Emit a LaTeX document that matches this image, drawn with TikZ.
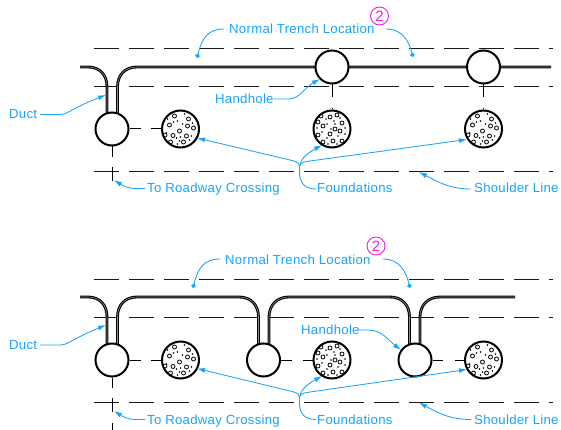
\documentclass[tikz,border=0pt]{standalone}
\usepackage{fontspec}
\setmainfont{Liberation Sans}
\usetikzlibrary{arrows.meta}
\definecolor{lead}{HTML}{18A4FA}
\definecolor{mag}{HTML}{F01CE6}
\tikzset{
 x=1pt,y=-1pt,
 road/.style={line width=1pt,dash pattern=on 24.5pt off 10.5pt,black!90},
 duct/.style={draw=black,line width=1.1pt,double=black!45,double distance=0.6pt,line cap=butt},
 hole/.style={circle,draw=black,line width=2pt,fill=white,minimum size=33pt,inner sep=0pt},
 found/.style={circle,draw=black,line width=2pt,fill=white,minimum size=37pt,inner sep=0pt},
 stub/.style={line width=1pt,black},
 lab/.style={text=lead,font=\fontsize{13.2}{15}\selectfont\addfontfeatures{LetterSpace=2},inner sep=0pt,anchor=base west},
 lead/.style={draw=lead,line width=0.85pt},
 arr/.style={lead,-{Latex[length=8pt,width=5pt]}},
 dotend/.style={lead,-{Circle[length=4.5pt,width=4.5pt]}},
 note/.style={circle,draw=mag,line width=0.9pt,inner sep=0pt,minimum size=18pt,text=mag,font=\fontsize{15}{16}\selectfont},
 pics/stones/.style={code={
  \foreach \a/\b in {-6/-13,8/-10,-11/-4,7/-3,13/-1,-1/2,6/7,-7.5/6.5,-10/13,3/13,-15.5/6}
   {\draw[line width=0.8pt] (\a,\b) circle[radius=2pt];}
  \foreach \a/\b in {4/-15,-3/-8,-7/-7,2/-5,12/-6,-14/4,0/8,-4/9,9/11,-3/15,-1/12,11/7,-13/-10}
   {\fill (\a,\b) circle[radius=0.95pt];}
 }},
 pics/stonesb/.style={code={
  \foreach \a/\b in {-11/-13,-2/-12,5/-14,-14/-7,-9/-3,10/-6,8/2,-2/5,-14/6,-9/13,1/12,10/12,3/0}
   {\draw[line width=0.8pt] (\a,\b) circle[radius=2pt];}
  \foreach \a/\b in {-6/-10,2/-8,8/-11,-5/-5,3/-5,13/-1,-1/0,-10/3,6/7,13/5,-5/9,-4/15,5/15,-15/-1}
   {\fill (\a,\b) circle[radius=0.95pt];}
 }}
}
\begin{document}
\begin{tikzpicture}
\useasboundingbox (0,0) rectangle (561,430);
% road lines
\coordinate (a1) at (94,49); \coordinate (a2) at (553,49);
\coordinate (b1) at (94,87); \coordinate (b2) at (553,87);
\coordinate (c1) at (94,172); \coordinate (c2) at (553,172);
\coordinate (d1) at (94,279); \coordinate (d2) at (553,279);
\coordinate (e1) at (94,317.5); \coordinate (e2) at (553,317.5);
\coordinate (f1) at (94,402.5); \coordinate (f2) at (553,402.5);
\draw[road] (a1)--(a2); \draw[road] (b1)--(b2); \draw[road] (c1)--(c2);
\draw[road] (d1)--(d2); \draw[road] (e1)--(e2); \draw[road] (f1)--(f2);
% top ducts
\draw[duct] (80,67) -- (88,67) .. controls (100,67) and (107,75) .. (107,87) -- (107,114);
\draw[duct] (117.5,114) -- (117.5,87) .. controls (117.5,75) and (125,67) .. (137,67) -- (551,67);
% bottom ducts
\draw[duct] (80,297) -- (88,297) .. controls (100,297) and (107,305) .. (107,317) -- (107,345);
\draw[duct] (117.5,345) -- (117.5,317) .. controls (117.5,305) and (125,297) .. (137,297) -- (239,297) .. controls (251,297) and (258.5,305) .. (258.5,317) -- (258.5,345);
\draw[duct] (269,345) -- (269,317) .. controls (269,305) and (277,297) .. (289,297) -- (390,297) .. controls (402,297) and (409.5,305) .. (409.5,317) -- (409.5,345);
\draw[duct] (420,345) -- (420,317) .. controls (420,305) and (428,297) .. (440,297) -- (515,297);
% handholes
\node[hole] (h1) at (112,129) {};
\node[hole] (h2) at (332,67) {};
\node[hole] (h3) at (483.5,67) {};
\node[hole] (h4) at (112,360) {};
\node[hole] (h5) at (263.5,360) {};
\node[hole] (h6) at (415,360) {};
% foundations
\node[found] (f1n) at (180.5,129) {};
\node[found] (f2n) at (332,129) {};
\node[found] (f3n) at (483.5,129) {};
\node[found] (f4n) at (180.5,360) {};
\node[found] (f5n) at (332,360) {};
\node[found] (f6n) at (483.5,360) {};
\pic at (f1n) {stones};
\pic at (f2n) {stonesb};
\pic at (f3n) {stones};
\pic at (f4n) {stones};
\pic at (f5n) {stonesb};
\pic at (f6n) {stones};
% stubs
\coordinate (s1) at (141,129); \coordinate (s2) at (151,129);
\draw[stub] (h1.east)--(s1); \draw[stub] (s2)--(f1n.west);
\coordinate (s3) at (112,157); \coordinate (s4) at (112,167); \coordinate (s5) at (112,181);
\draw[stub] (h1.south)--(s3); \draw[stub] (s4)--(s5);
\coordinate (s6) at (332,97); \coordinate (s7) at (332,108);
\draw[stub] (h2.south)--(s6); \draw[stub] (s7)--(f2n.north);
\coordinate (s8) at (483.5,97); \coordinate (s9) at (483.5,108);
\draw[stub] (h3.south)--(s8); \draw[stub] (s9)--(f3n.north);
\coordinate (t1) at (141,360); \coordinate (t2) at (151,360);
\draw[stub] (h4.east)--(t1); \draw[stub] (t2)--(f4n.west);
\coordinate (t3) at (112,388); \coordinate (t4) at (112,398); \coordinate (t5) at (112,412); \coordinate (t6) at (112,423); \coordinate (t7) at (112,430);
\draw[stub] (h4.south)--(t3); \draw[stub] (t4)--(t5); \draw[stub] (t6)--(t7);
\coordinate (t8) at (292,360); \coordinate (t9) at (303,360);
\draw[stub] (h5.east)--(t8); \draw[stub] (t9)--(f5n.west);
\coordinate (t10) at (443,360); \coordinate (t11) at (455,360);
\draw[stub] (h6.east)--(t10); \draw[stub] (t11)--(f6n.west);
% labels top
\node[lab] (n1) at (229,34) {Normal Trench Location};
\node[note] (c2a) at (379.5,16) {2};
\node[lab] (du1) at (9,118.5) {Duct};
\node[lab] (ha1) at (215,104) {Handhole};
\node[lab] (ro1) at (147,193) {To Roadway Crossing};
\node[lab] (fo1) at (317,193) {Foundations};
\node[lab] (sh1) at (474,193) {Shoulder Line};
% labels bottom
\node[lab] (n2) at (225,264.5) {Normal Trench Location};
\node[note] (c2b) at (376,246) {2};
\node[lab] (du2) at (9,349) {Duct};
\node[lab] (ha2) at (301,334) {Handhole};
\node[lab] (ro2) at (147,424) {To Roadway Crossing};
\node[lab] (fo2) at (317,424) {Foundations};
\node[lab] (sh2) at (474,424) {Shoulder Line};
% leaders top
\coordinate (p1) at (197,58); \coordinate (p2) at (413,57);
\coordinate (q1) at (224,29); \coordinate (q2) at (386,29);
\draw[dotend] (q1) .. controls (208,29) and (202,38) .. (p1);
\draw[dotend] (q2) .. controls (403,29) and (409,42) .. (p2);
\coordinate (r1) at (40,114.5); \coordinate (r2) at (106,95);
\draw[arr] (r1) -- (60,114.5) .. controls (68,114.5) and (72,108) .. (r2);
\coordinate (r3) at (274,99); \coordinate (r4) at (320,79);
\draw[arr] (r3) -- (288,99) .. controls (300,99) and (304,88) .. (r4);
\coordinate (r5) at (145,188.5); \coordinate (r6) at (114,180);
\draw[arr] (r5) -- (135,188.5) .. controls (128,188.5) and (122,185) .. (r6);
\coordinate (r7) at (471,189); \coordinate (r8) at (419,172);
\draw[arr] (r7) .. controls (450,189) and (438,182) .. (r8);
\coordinate (b0) at (299.5,166);
\coordinate (g1) at (197,138); \coordinate (g2) at (322,145); \coordinate (g3) at (467,139.5); \coordinate (g4) at (316,189);
\draw[lead] (g4) .. controls (303,189) and (299.5,181) .. (299.5,172) -- (b0);
\draw[arr] (b0) .. controls (298,162) and (295,161) .. (290,160) -- (g1);
\draw[arr] (b0) .. controls (301,159) and (306,154) .. (g2);
\draw[arr] (b0) .. controls (301,162) and (304,162) .. (310,161) -- (g3);
% leaders bottom
\coordinate (p3) at (193,288); \coordinate (p4) at (410,288);
\coordinate (q3) at (220,259); \coordinate (q4) at (383,259);
\draw[dotend] (q3) .. controls (204,259) and (198,268) .. (p3);
\draw[dotend] (q4) .. controls (400,259) and (406,272) .. (p4);
\coordinate (r9) at (40,345); \coordinate (r10) at (106,325);
\draw[arr] (r9) -- (60,345) .. controls (68,345) and (72,339) .. (r10);
\coordinate (r11) at (358,330); \coordinate (r12) at (401,350);
\draw[arr] (r11) -- (368,330) .. controls (382,330) and (388,340) .. (r12);
\coordinate (r13) at (145,419.5); \coordinate (r14) at (114,411);
\draw[arr] (r13) -- (135,419.5) .. controls (128,419.5) and (122,416) .. (r14);
\coordinate (r15) at (471,419.5); \coordinate (r16) at (419,402.5);
\draw[arr] (r15) .. controls (450,419.5) and (438,413) .. (r16);
\coordinate (b1x) at (299.5,397);
\coordinate (g5) at (197,368.5); \coordinate (g6) at (322,376); \coordinate (g7) at (467,369.5); \coordinate (g8) at (316,419.5);
\draw[lead] (g8) .. controls (303,419.5) and (299.5,412) .. (299.5,403) -- (b1x);
\draw[arr] (b1x) .. controls (298,393) and (295,392) .. (290,391) -- (g5);
\draw[arr] (b1x) .. controls (301,390) and (306,385) .. (g6);
\draw[arr] (b1x) .. controls (301,393) and (304,393) .. (310,392) -- (g7);
\end{tikzpicture}
\end{document}
